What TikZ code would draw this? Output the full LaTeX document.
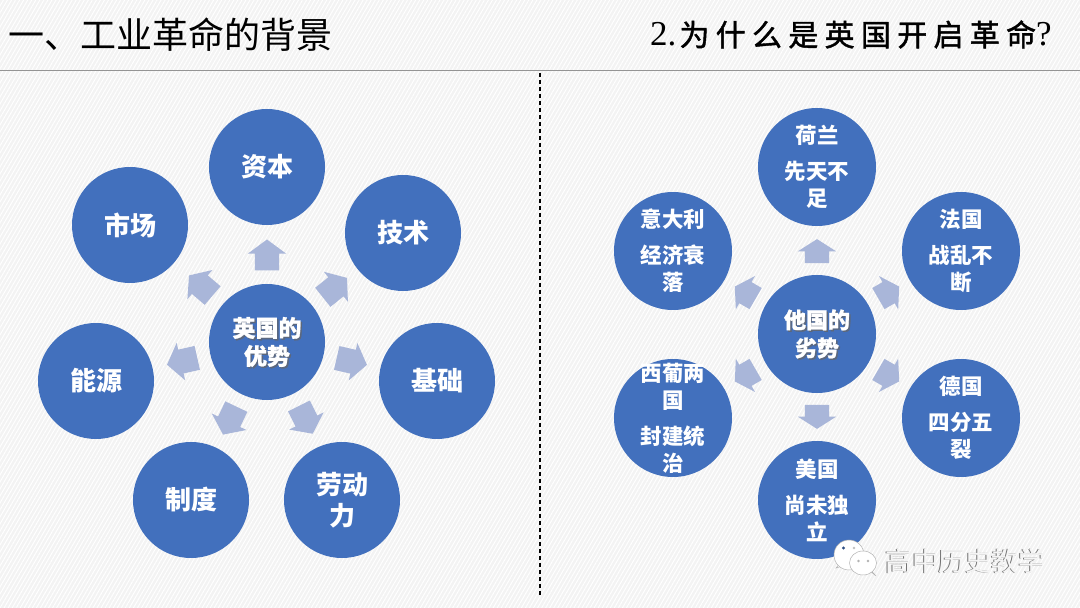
\documentclass[tikz,border=0pt]{standalone}
\usepackage{fontspec}
\usetikzlibrary{shapes.arrows,calc,patterns.meta}
\setmainfont{Noto Sans CJK SC}
\newfontfamily\cjkheavy[FakeBold=1.1]{Noto Sans CJK SC}
\newfontfamily\cjkspaced[LetterSpace=21,FakeBold=1.4]{Noto Sans CJK SC}
\newfontfamily\latinserif{Liberation Serif}
\definecolor{bluec}{HTML}{4270BD}
\definecolor{paleb}{HTML}{A9B6D9}
\definecolor{bgc}{HTML}{F3F3F3}
\tikzset{
  x=1pt,y=1pt,
  disc/.style={circle,fill=bluec,minimum size=#1,inner sep=-6pt,text=white,align=center},
  bigdisc/.style={disc=116pt,font=\bfseries\fontsize{26}{31}\selectfont},
  smalldisc/.style={disc=118pt,font=\bfseries\fontsize{21.5}{27}\selectfont},
  hubtext/.style={text=white,align=center,font=\cjkheavy\bfseries\fontsize{#1}{28}\selectfont},
  hubshade/.style={text=black!60,align=center,opacity=.7,font=\cjkheavy\bfseries\fontsize{#1}{28}\selectfont},
  blockL/.style={single arrow,fill=paleb,inner xsep=0pt,inner ysep=12pt,minimum height=31pt,
    single arrow head extend=7pt,single arrow tip angle=107,single arrow head indent=0pt,rotate=#1},
  blockR/.style={single arrow,fill=paleb,inner xsep=0pt,inner ysep=12pt,minimum height=24pt,
    single arrow head extend=7pt,single arrow tip angle=115,single arrow head indent=0pt,rotate=#1},
  title/.style={anchor=base west,text=black,inner sep=0pt},
  bubble/.style={fill=white,draw=black!30,line width=.5pt},
}
\begin{document}
\begin{tikzpicture}
\useasboundingbox (0,0) rectangle (1080,608);
\fill[bgc] (0,0) rectangle (1080,608);
\fill[pattern={Lines[angle=60,distance=3.5pt,line width=1pt]},pattern color=white] (0,0) rectangle (1080,608);
% header
\node[title,font=\fontsize{36}{40}\selectfont] (t1) at (8,559) {一、工业革命的背景};
\node[title] (t2) at (650,562) {\latinserif\fontsize{35}{36}\selectfont 2.\hspace{3pt}\cjkspaced\fontsize{30}{34}\selectfont 为什么是英国开启革命\latinserif\fontsize{35}{36}\selectfont ?};
\coordinate (ruleA) at (0,538); \coordinate (ruleB) at (1080,538);
\draw[black!42,line width=.9pt] (ruleA) -- (ruleB);
\coordinate (divA) at (540,535); \coordinate (divB) at (540,12);
\draw[black,line width=1.2pt,dash pattern=on 4.5pt off 2.5pt] (divA) -- (divB);
% left group
\node[disc=116pt] (hubL) at (267,266) {};
\node[bigdisc] (zb) at (267,441) {资本};
\node[bigdisc] (js) at (403,375) {技术};
\node[bigdisc] (jc) at (437,227) {基础};
\node[bigdisc] (ldl) at (342,108) {劳动\\力};
\node[bigdisc] (zd) at (191,108) {制度};
\node[bigdisc] (ny) at (96,227) {能源};
\node[bigdisc] (sc) at (130,383) {市场};
\node[hubshade=23] at ([shift={(1.5,-1.5)}]hubL) {英国的\\优势};
\node[hubtext=23] (hubLtext) at (hubL) {英国的\\优势};
\foreach \a/\n in {90/a1,38.7/a2,-12.9/a3,-63.5/a4,-115.4/a5,192.8/a6,139.5/a7}
  \node[blockL=\a] (L\n) at ($(hubL)+(\a:82.5pt)$) {};
% right group
\node[disc=118pt] (hubR) at (817,274) {};
\node[smalldisc] (hl) at (817,441) {荷兰\\[9pt]先天不\\足};
\node[smalldisc] (fg) at (961,357) {法国\\[9pt]战乱不\\断};
\node[smalldisc] (dg) at (961,190) {德国\\[9pt]四分五\\裂};
\node[smalldisc] (mg) at (817,108) {美国\\[9pt]尚未独\\立};
\node[smalldisc] (xp) at (673,190) {西葡两\\国\\[9pt]封建统\\治};
\node[smalldisc] (ydl) at (673,357) {意大利\\[9pt]经济衰\\落};
\node[hubshade=22] at ([shift={(1.5,-1.5)}]hubR) {他国的\\劣势};
\node[hubtext=22] (hubRtext) at (hubR) {他国的\\劣势};
\foreach \a/\n in {90/b1,30/b2,-30/b3,-90/b4,210/b5,150/b6}
  \node[blockR=\a] (R\n) at ($(hubR)+(\a:79pt)$) {};
% watermark
\begin{scope}
\fill[bubble] (841,46) -- (836,40) -- (846,43) -- cycle;
\draw[bubble] (849,53) ellipse [x radius=15,y radius=15];
\fill[bubble] (870,37) -- (876,32) -- (868,41) -- cycle;
\draw[bubble] (863,45) ellipse [x radius=13.5,y radius=12];
\fill[bluec!70!black] (843.5,60) circle (1.6);
\fill[black!25] (854,60) circle (1.4);
\fill[black!30] (858.5,47) circle (1.3);
\fill[black!30] (868,47) circle (1.3);
\end{scope}
\node[text=black!55,font=\fontsize{26.5}{30}\selectfont] at (964.2,46.2) {高中历史教学};
\node[text=white!96!black,font=\fontsize{26.5}{30}\selectfont] (wm) at (965,47) {高中历史教学};
\end{tikzpicture}
\end{document}
